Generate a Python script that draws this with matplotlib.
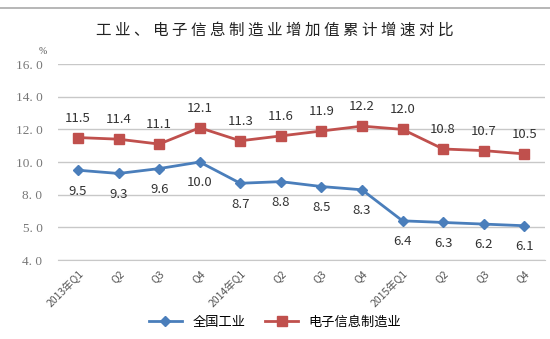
import matplotlib.pyplot as plt
from matplotlib.lines import Line2D

plt.rcParams['font.family'] = ['Noto Sans CJK SC', 'DejaVu Sans']

quarters = ['2013年Q1', 'Q2', 'Q3', 'Q4',
            '2014年Q1', 'Q2', 'Q3', 'Q4',
            '2015年Q1', 'Q2', 'Q3', 'Q4']
industry = [9.5, 9.3, 9.6, 10.0, 8.7, 8.8, 8.5, 8.3, 6.4, 6.3, 6.2, 6.1]
electronics = [11.5, 11.4, 11.1, 12.1, 11.3, 11.6, 11.9, 12.2, 12.0, 10.8, 10.7, 10.5]
yticks = [4, 6, 8, 10, 12, 14, 16]
ytick_labels = ['4. 0', '5. 0', '8. 0', '10. 0', '12. 0', '14. 0', '16. 0']

blue = '#4A7EBB'
red = '#C0504D'

fig = plt.figure(figsize=(5.5, 3.39), dpi=100)
ax = fig.add_axes([0.105, 0.233, 0.885, 0.578])

x = list(range(len(quarters)))
ax.plot(x, industry, color=blue, lw=2, marker='D', ms=5, label='全国工业')
ax.plot(x, electronics, color=red, lw=2, marker='s', ms=7, label='电子信息制造业')

for i, v in enumerate(industry):
    ax.annotate(f'{v:.1f}', (i, v), xytext=(0, -15), textcoords='offset points',
                ha='center', va='center', fontsize=9.5, color='#333333')
for i, v in enumerate(electronics):
    ax.annotate(f'{v:.1f}', (i, v), xytext=(0, 14), textcoords='offset points',
                ha='center', va='center', fontsize=9.5, color='#333333')

ax.set_xlim(-0.5, len(quarters) - 0.5)
ax.set_ylim(4, 16)
ax.set_yticks(yticks)
ax.set_yticklabels(ytick_labels, fontsize=9.5, color='#777777', family='Liberation Serif')
ax.set_xticks(x)
ax.set_xticklabels(quarters, rotation=45, ha='right', rotation_mode='anchor',
                   fontsize=7.5, color='#555555')
ax.tick_params(axis='y', length=0, pad=11)
ax.tick_params(axis='x', length=0, pad=6)
ax.yaxis.grid(True, color='#C8C8C8', lw=1)
ax.set_axisbelow(True)
for s in ['top', 'right', 'left']:
    ax.spines[s].set_visible(False)
ax.spines['bottom'].set_color('#C8C8C8')

ax.text(-0.03, 1.05, '%', transform=ax.transAxes, fontsize=7, color='#555555',
        family='Liberation Serif', ha='center')

fig.text(0.5, 0.91, '工 业 、 电 子 信 息 制 造 业 增 加 值 累 计 增 速 对 比',
         ha='center', va='center', fontsize=11.2, color='#222222', fontweight='medium')
fig.add_artist(Line2D([0.0, 1.0], [0.975, 0.975], color='#AAAAAA', lw=1.2))

fig.legend(loc='center', bbox_to_anchor=(0.5, 0.05), ncol=2, frameon=False,
           fontsize=9.5, handlelength=2.5, columnspacing=1.5)

fig.savefig('out.png', dpi=100)
